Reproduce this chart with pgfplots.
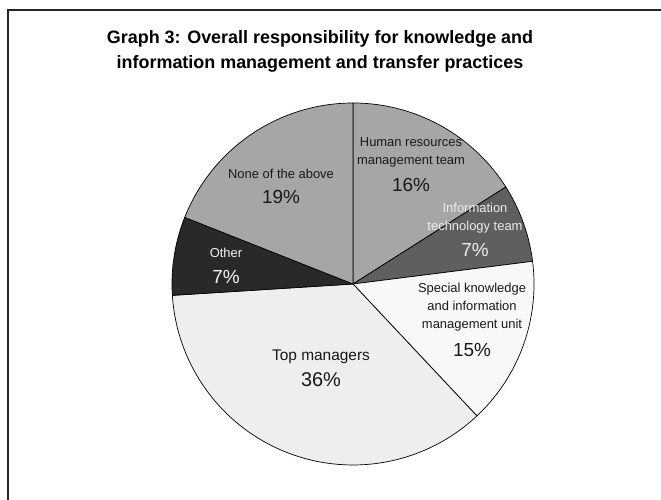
\documentclass[border=0pt]{standalone}
\usepackage{pgfplots}
\pgfplotsset{compat=1.18}
\usepackage{pgfplotstable}
\usepackage{fontspec}
\setmainfont{Liberation Sans}
\definecolor{cHR}{HTML}{A6A6A6}
\definecolor{cIT}{HTML}{5F5F5F}
\definecolor{cSK}{HTML}{F8F8F8}
\definecolor{cTM}{HTML}{EEEEEE}
\definecolor{cOT}{HTML}{292929}
\definecolor{cNA}{HTML}{A6A6A6}
% shares in percent, clockwise from 12 o'clock
\pgfplotstableread{
label start end
HR 0 16
IT 16 23
SK 23 38
TM 38 74
OT 74 81
NA 81 100
}\piedata
\def\cx{353}
\def\cy{216}
\def\rr{181}
\newcommand{\slice}[3]{%
  \addplot[fill=#3, draw=black, line width=0.7pt, line join=round, domain=#1:#2, samples=90, variable=\t]
    ({\cx+\rr*sin(3.6*\t)},{\cy+\rr*cos(3.6*\t)}) -- (axis cs:\cx,\cy) -- cycle;
}
\tikzset{lab/.style={align=center, font=\fontsize{13}{18}\selectfont},
         pct/.style={font=\fontsize{19}{22}\selectfont}}
\begin{document}
\begin{tikzpicture}[x=1bp,y=1bp]
\path[use as bounding box] (0,0) rectangle (661,500);
\begin{axis}[at={(0,0)}, anchor=south west, scale only axis, width=661bp, height=500bp,
  xmin=0, xmax=661, ymin=0, ymax=500, hide axis, clip=false]
\pgfplotstablegetelem{0}{start}\of\piedata\let\sA\pgfplotsretval
\pgfplotstablegetelem{0}{end}\of\piedata\let\eA\pgfplotsretval
\pgfplotstablegetelem{1}{start}\of\piedata\let\sB\pgfplotsretval
\pgfplotstablegetelem{1}{end}\of\piedata\let\eB\pgfplotsretval
\pgfplotstablegetelem{2}{start}\of\piedata\let\sC\pgfplotsretval
\pgfplotstablegetelem{2}{end}\of\piedata\let\eC\pgfplotsretval
\pgfplotstablegetelem{3}{start}\of\piedata\let\sD\pgfplotsretval
\pgfplotstablegetelem{3}{end}\of\piedata\let\eD\pgfplotsretval
\pgfplotstablegetelem{4}{start}\of\piedata\let\sE\pgfplotsretval
\pgfplotstablegetelem{4}{end}\of\piedata\let\eE\pgfplotsretval
\pgfplotstablegetelem{5}{start}\of\piedata\let\sF\pgfplotsretval
\pgfplotstablegetelem{5}{end}\of\piedata\let\eF\pgfplotsretval
\slice{\sA}{\eA}{cHR}
\slice{\sB}{\eB}{cIT}
\slice{\sC}{\eC}{cSK}
\slice{\sD}{\eD}{cTM}
\slice{\sE}{\eE}{cOT}
\slice{\sF}{\eF}{cNA}
% frame
\draw[line width=1.5pt, color=black!85] (axis cs:8,0) -- (axis cs:8,490) -- (axis cs:661,490);
% title
\node[align=center, font=\fontsize{18}{24.5}\selectfont\bfseries] at (axis cs:320,448.5)
  {Graph 3: Overall responsibility for knowledge and\\information management and transfer practices};
% labels
\node[lab, text=black!90] at (axis cs:411,348) {Human resources\\management team};
\node[pct, text=black!90] at (axis cs:411,315) {16\%};
\node[lab, text=black!8] at (axis cs:475,282) {Information\\technology team};
\node[pct, text=black!8] at (axis cs:475,250) {7\%};
\node[lab, text=black!90] at (axis cs:472,193) {Special knowledge\\and information\\management unit};
\node[pct, text=black!90] at (axis cs:472,150) {15\%};
\node[align=center, font=\fontsize{15.5}{18}\selectfont, text=black!90] at (axis cs:321,143) {Top managers};
\node[font=\fontsize{20}{22}\selectfont, text=black!90] at (axis cs:321,120) {36\%};
\node[lab, text=black!5] at (axis cs:226,247) {Other};
\node[pct, text=black!5] at (axis cs:226,223) {7\%};
\node[lab, text=black!90] at (axis cs:281,326) {None of the above};
\node[pct, text=black!90] at (axis cs:281,303) {19\%};
\end{axis}
\end{tikzpicture}
\end{document}
